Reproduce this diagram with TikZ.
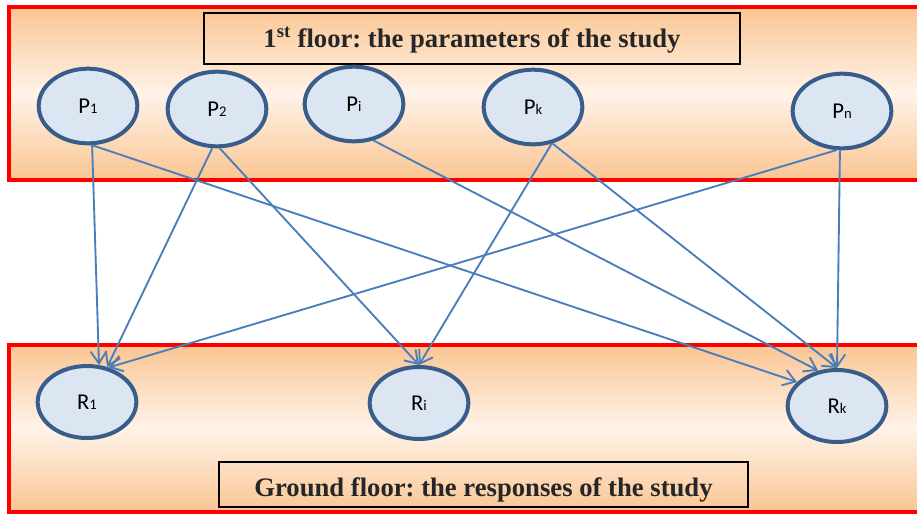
\documentclass[tikz,border=0pt]{standalone}
\usepackage{fontspec}
\setmainfont{Liberation Serif}
\newfontfamily\labelfont{Carlito}
\usetikzlibrary{shapes.geometric,arrows.meta}
\frenchspacing
\definecolor{floorred}{HTML}{FF0000}
\definecolor{floorpeach}{HTML}{FAC592}
\definecolor{floorlight}{HTML}{FFF3E9}
\definecolor{ellline}{HTML}{385D8A}
\definecolor{ellfill}{HTML}{DCE6F2}
\definecolor{linkblue}{HTML}{4A7EBB}
\definecolor{titlegray}{HTML}{262626}
\tikzset{
  floor/.style={draw=floorred, line width=3pt, top color=floorpeach,
    bottom color=floorpeach, middle color=floorlight},
  floortitle/.style={draw=black, line width=1.2pt, inner sep=0pt, text depth=0pt,
    font=\fontsize{20}{22}\selectfont\bfseries, text=titlegray},
  var/.style={ellipse, draw=ellline, line width=3pt, fill=ellfill, inner sep=0pt,
    font=\labelfont\fontsize{17}{17}\selectfont},
  param/.style={var, minimum width=74pt, minimum height=56pt},
  resp/.style={var, minimum width=74pt, minimum height=54pt},
  link/.style={draw=linkblue, line width=1.4pt, -{Straight Barb[length=9pt,width=12pt]}},
}
\newcommand\lo[1]{{\fontsize{11}{11}\selectfont #1}}
\begin{document}
\begin{tikzpicture}[x=0.75pt, y=-0.75pt]
  \clip (0,0) rectangle (917,515);
  % the two floors
  \path[floor] (9,7) rectangle (930,180);
  \path[floor] (9,345) rectangle (930,512);
  \node[floortitle, text height=13pt, minimum width=402pt, minimum height=38pt] (top) at (472,38.5)
    {1\textsuperscript{st} floor: the parameters of the study};
  \node[floortitle, text height=18pt, minimum width=397pt, minimum height=34pt] (ground) at (483.5,484.5)
    {Ground floor: the responses of the study};
  % parameters
  \foreach \name/\x/\y/\sub in {p1/88/106/1, p2/217/109/2, pi/354/104/i, pk/533/107/k, pn/842/111/n}
    \node[param] (\name) at (\x,\y) {P\lo{\sub}};
  % responses
  \foreach \name/\x/\y/\sub in {r1/87/402/1, ri/419/403/i, rk/837/406/k}
    \node[resp] (\name) at (\x,\y) {R\lo{\sub}};
  % links
  \foreach \a/\aa/\b/\bb in {p1/-84/r1/72, p1/-84/rk/149, p2/-97/r1/60, p2/-86/ri/90,
      pi/-62/rk/118, pk/-63/ri/90, pk/-62/rk/90, pn/-98/r1/58, pn/-93/rk/90}
    \draw[link] (\a.\aa) -- (\b.\bb);
\end{tikzpicture}
\end{document}
